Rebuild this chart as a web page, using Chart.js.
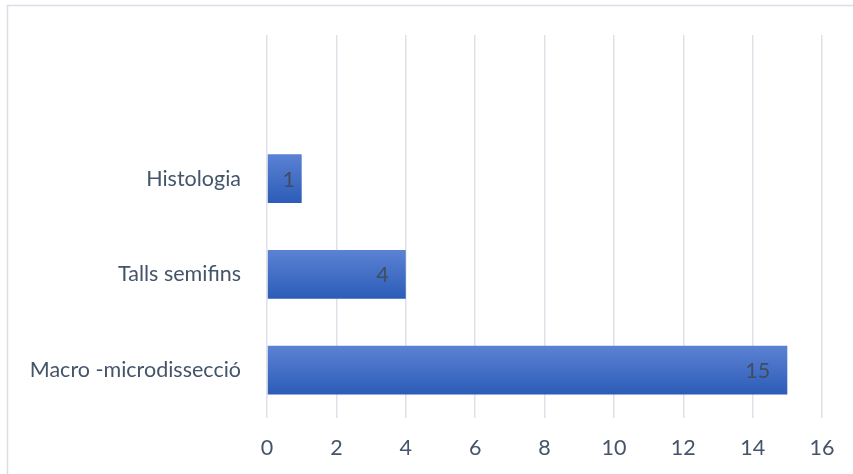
<!DOCTYPE html>
<html>
<head>
<meta charset="utf-8">
<script src="https://cdn.jsdelivr.net/npm/chart.js@4"></script>
<style>
  html, body { margin: 0; padding: 0; background: #fff; }
  #wrap { width: 853px; height: 474px; position: relative; }
</style>
</head>
<body>
<div id="wrap"><canvas id="chart"></canvas></div>
<script>
// Excel leaves an empty row at the top of the category axis
const categories = ['', 'Histologia', 'Talls semifins', 'Macro -microdissecció'];
const values = [null, 1, 4, 15];
const xTicks = [0, 2, 4, 6, 8, 10, 12, 14, 16];

const FONT = "Lato, 'Liberation Sans', sans-serif";
const FONT_SIZE = 21.5;
const TEXT = '#44546a';

// vertical gradient per bar, built from the y scale
function barGradient(ctx) {
    const chart = ctx.chart;
    const y = chart.scales.y;
    if (!y || ctx.dataIndex == null) return '#4472c4';
    const band = Math.abs(y.getPixelForValue(1) - y.getPixelForValue(0));
    const thick = band * 0.51;
    const cy = y.getPixelForValue(ctx.dataIndex);
    if (!isFinite(cy) || !isFinite(thick) || thick <= 0) return '#4472c4';
    const g = chart.ctx.createLinearGradient(0, cy - thick / 2, 0, cy + thick / 2);
    g.addColorStop(0, '#5b82d4');
    g.addColorStop(1, '#2c5cb7');
    return g;
}

const frame = {
    id: 'frame',
    beforeDraw(chart) {
        const c = chart.ctx;
        c.save();
        c.strokeStyle = '#d9dde5';
        c.lineWidth = 1.5;
        c.beginPath();
        c.moveTo(7.5, chart.height);
        c.lineTo(7.5, 5.5);
        c.lineTo(chart.width, 5.5);
        c.stroke();
        c.restore();
    },
};

const valueLabels = {
    id: 'valueLabels',
    afterDatasetsDraw(chart) {
        const c = chart.ctx;
        const meta = chart.getDatasetMeta(0);
        c.save();
        c.font = FONT_SIZE + 'px ' + FONT;
        c.fillStyle = '#404d60';
        c.textAlign = 'right';
        c.textBaseline = 'middle';
        meta.data.forEach((bar, i) => {
            if (values[i] == null) return;
            const txt = String(values[i]);
            const w = c.measureText(txt).width;
            const x = Math.max(bar.x - 17, (bar.x + bar.base) / 2 + w / 2 + 4);
            c.fillText(txt, x, bar.y + 1);
        });
        c.restore();
    },
};

new Chart(document.getElementById('chart'), {
    type: 'bar',
    data: {
        labels: categories,
        datasets: [{
            data: values,
            backgroundColor: barGradient,
            borderWidth: 0,
            categoryPercentage: 1,
            barPercentage: 0.51,
        }],
    },
    options: {
        indexAxis: 'y',
        responsive: true,
        maintainAspectRatio: false,
        animation: false,
        layout: { padding: { top: 35, right: 31, bottom: 13, left: 0 } },
        plugins: {
            legend: { display: false },
            tooltip: { enabled: false },
        },
        scales: {
            x: {
                min: 0,
                max: 16,
                afterBuildTicks(scale) {
                    scale.ticks = xTicks.map(v => ({ value: v }));
                },
                afterFit(scale) { scale.height = 43; },
                grid: { color: '#dde1e8', lineWidth: 1.5, drawTicks: false },
                border: { display: false },
                ticks: {
                    color: TEXT,
                    font: { family: FONT, size: FONT_SIZE },
                    padding: 17,
                },
            },
            y: {
                afterFit(scale) {
                    scale.width = 267;
                    scale.paddingTop = 0;
                    scale.paddingBottom = 0;
                },
                grid: { display: false, drawTicks: false },
                border: { display: false },
                ticks: {
                    color: TEXT,
                    font: { family: FONT, size: FONT_SIZE },
                    padding: 26,
                },
            },
        },
    },
    plugins: [frame, valueLabels],
});
</script>
</body>
</html>
